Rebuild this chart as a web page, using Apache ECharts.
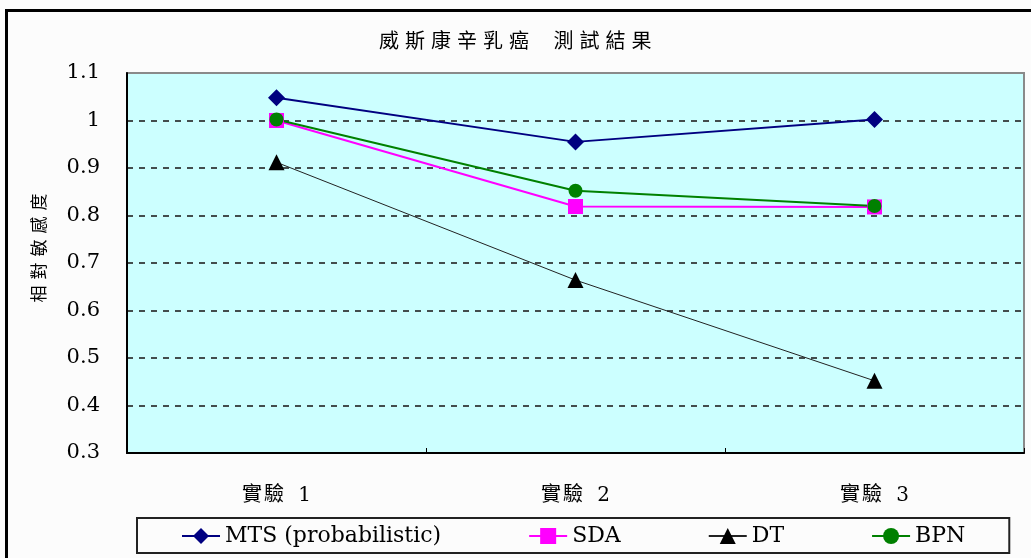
<!DOCTYPE html>
<html>
<head>
<meta charset="utf-8">
<script src="https://cdn.jsdelivr.net/npm/echarts@6/dist/echarts.min.js"></script>
<style>
  html, body { margin: 0; padding: 0; background: #fcfcfc; }
  #chart { width: 1031px; height: 558px; }
</style>
</head>
<body>
<div id="chart"></div>
<script>
// Chart text
const titleText = '威斯康辛乳癌 測試結果';
const yAxisName = '相對敏感度';

// Categories and y-axis range
const categories = ['實驗 1', '實驗 2', '實驗 3'];
const yMin = 0.3;
const yMax = 1.1;
const yStep = 0.1;

// Series values
const seriesNames = ['MTS (probabilistic)', 'SDA', 'DT', 'BPN'];
const mtsValues = [1.048, 0.955, 1.002];
const sdaValues = [1.0, 0.819, 0.818];
const dtValues = [0.912, 0.664, 0.452];
const bpnValues = [1.002, 0.852, 0.820];

const latin = 'DejaVu Serif';
const cjk = 'Noto Sans CJK TC';

// Wrap every character in a rich-text token so the glyphs get extra spacing
function spaced(str, style, spaceStyle) {
  return str.split('').map(c => c === ' ' ? `{${spaceStyle}|${c}}` : `{${style}|${c}}`).join('');
}

const chart = echarts.init(document.getElementById('chart'), null, { renderer: 'canvas' });

const option = {
  backgroundColor: '#fcfcfc',
  animation: false,
  title: {
    text: spaced(titleText, 'c', 'sp'),
    left: 376,
    top: 30,
    padding: 0,
    textStyle: {
      rich: {
        c: { fontFamily: cjk, fontSize: 20, color: '#000', padding: [0, 3], fontWeight: 'normal' },
        sp: { fontFamily: cjk, fontSize: 20, color: '#000', padding: [0, 7] }
      }
    }
  },
  graphic: [{
    type: 'rect',
    shape: { x: 6.5, y: 10.5, width: 1100, height: 600 },
    style: { fill: 'none', stroke: '#000', lineWidth: 3 },
    silent: true,
    z: 100
  }],
  grid: {
    left: 127,
    top: 73,
    right: 7,
    bottom: 105,
    show: true,
    backgroundColor: '#ccffff',
    borderColor: '#8a8a8a',
    borderWidth: 2
  },
  legend: {
    left: 137,
    top: 518,
    orient: 'horizontal',
    data: seriesNames,
    itemWidth: 38,
    itemHeight: 20,
    itemGap: 87,
    padding: [6, 44, 5, 44],
    borderColor: '#222',
    borderWidth: 2,
    backgroundColor: '#fcfcfc',
    textStyle: { fontFamily: latin, fontSize: 22, color: '#000', lineHeight: 24 }
  },
  xAxis: {
    type: 'category',
    data: categories,
    boundaryGap: true,
    axisLine: { show: true, lineStyle: { color: '#000', width: 2 } },
    axisTick: { show: true, inside: true, length: 5, lineStyle: { color: '#000', width: 1 } },
    axisLabel: {
      margin: 33,
      formatter: v => spaced(v, 'c', 'sp'),
      rich: {
        c: { fontFamily: latin + ', ' + cjk, fontSize: 20, color: '#000', padding: [0, 1] },
        sp: { fontFamily: latin, fontSize: 20, color: '#000', padding: [0, 3] }
      }
    },
    splitLine: { show: false }
  },
  yAxis: {
    type: 'value',
    min: yMin,
    max: yMax,
    interval: yStep,
    name: spaced(yAxisName, 'n', 'n'),
    nameLocation: 'middle',
    nameRotate: 90,
    nameGap: 80,
    nameTextStyle: {
      padding: [0, 0, 0, 30],
      rich: {
        n: { fontFamily: cjk, fontSize: 17, color: '#000', padding: [0, 3] }
      }
    },
    axisLine: { show: true, lineStyle: { color: '#000', width: 2 } },
    axisTick: { show: false },
    axisLabel: {
      margin: 27,
      color: '#000',
      fontSize: 21,
      fontFamily: latin,
      formatter: v => String(parseFloat(v.toFixed(1)))
    },
    splitLine: {
      show: true,
      showMinLine: false,
      showMaxLine: false,
      lineStyle: { color: '#222', width: 1.6, type: [6, 6] }
    }
  },
  series: [
    {
      name: seriesNames[0], type: 'line', data: mtsValues,
      symbol: 'diamond', symbolSize: 17,
      itemStyle: { color: '#000080' },
      lineStyle: { color: '#000080', width: 2 }
    },
    {
      name: seriesNames[1], type: 'line', data: sdaValues,
      symbol: 'rect', symbolSize: 15,
      itemStyle: { color: '#ff00ff' },
      lineStyle: { color: '#ff00ff', width: 2 }
    },
    {
      name: seriesNames[2], type: 'line', data: dtValues,
      symbol: 'triangle', symbolSize: 16,
      itemStyle: { color: '#000' },
      lineStyle: { color: '#222', width: 1 }
    },
    {
      name: seriesNames[3], type: 'line', data: bpnValues,
      symbol: 'circle', symbolSize: 14,
      itemStyle: { color: '#008000' },
      lineStyle: { color: '#008000', width: 2 }
    }
  ]
};

chart.setOption(option);
</script>
</body>
</html>
